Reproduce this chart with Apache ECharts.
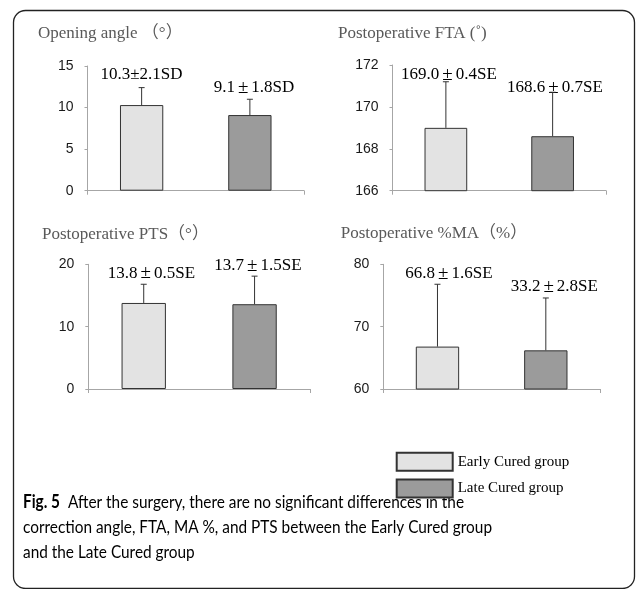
<!DOCTYPE html>
<html>
<head>
<meta charset="utf-8">
<script src="https://cdn.jsdelivr.net/npm/echarts@6/dist/echarts.min.js"></script>
<style>
html,body{margin:0;padding:0;background:#fff;}
#chart{width:637px;height:589px;}
</style>
</head>
<body>
<div id="chart"></div>
<script>
// ---- data ----
const groups = ['Early Cured group', 'Late Cured group'];
const panelTitles = ['Opening angle （°）', 'Postoperative FTA (˚)', 'Postoperative PTS（°）', 'Postoperative %MA（%）'];
const meanValues = [[10.3, 9.1], [169.0, 168.6], [13.8, 13.6], [66.8, 66.2]];
const errorTops = [[12.4, 11.0], [171.2, 170.7], [16.8, 18.1], [76.8, 74.6]];
const valueLabels = [
  ['10.3±2.1SD', '9.1±1.8SD'],
  ['169.0±0.4SE', '168.6±0.7SE'],
  ['13.8±0.5SE', '13.7±1.5SE'],
  ['66.8±1.6SE', '33.2±2.8SE']
];
const axisMin = [0, 166, 0, 60];
const axisMax = [15, 172, 20, 80];
const axisStep = [5, 2, 10, 10];
const captionLead = 'Fig. 5';
const captionLines = [
  'After the surgery, there are no significant differences in the',
  'correction angle, FTA, MA %, and PTS between the Early Cured group',
  'and the Late Cured group'
];

// ---- layout ----
const grids = [
  {left: 87.5, top: 66, width: 216.5, height: 124.7},
  {left: 392.5, top: 65, width: 213.5, height: 125.7},
  {left: 88.3, top: 264.3, width: 221.7, height: 124.7},
  {left: 383.3, top: 264.3, width: 216.7, height: 124.7}
];
const titlePos = [[38, 35], [338, 35], [42, 235.7], [340.7, 235]];
const labelPos = [
  [[141.5, 75], [254, 88]],
  [[449, 75], [555, 88]],
  [[151.5, 273.3], [258, 266]],
  [[449, 274], [554.3, 286.7]]
];
const fills = ['#e3e3e3', '#9b9b9b'];
const serif = '"Liberation Serif", "Noto Sans CJK JP", serif';
const capFont = 'Lato, sans-serif';
const capSize = 18;

// horizontal squeeze so the caption matches the narrow original face
const mc = document.createElement('canvas').getContext('2d');
mc.font = capSize + 'px ' + capFont;
const capScale = Math.min(1, 469 / mc.measureText(captionLines[1]).width);

const chart = echarts.init(document.getElementById('chart'), null, {renderer: 'canvas'});

const xAxes = [], yAxes = [], series = [], graphics = [];
grids.forEach((g, i) => {
  xAxes.push({
    type: 'category', gridIndex: i, data: groups,
    axisLine: {lineStyle: {color: '#a6a6a6', width: 1}},
    axisTick: {show: true, length: 4, lineStyle: {color: '#a6a6a6'}},
    axisLabel: {show: false}
  });
  yAxes.push({
    type: 'value', gridIndex: i, min: axisMin[i], max: axisMax[i], interval: axisStep[i],
    axisLine: {show: true, lineStyle: {color: '#a6a6a6', width: 1}},
    axisTick: {show: true, length: 3, lineStyle: {color: '#a6a6a6'}},
    splitLine: {show: false},
    axisLabel: {margin: 14, fontFamily: '"Liberation Sans", sans-serif', fontSize: 14, color: '#1a1a1a'}
  });
  groups.forEach((name, k) => {
    series.push({
      type: 'bar', name: name, xAxisIndex: i, yAxisIndex: i,
      barWidth: '40%', barGap: '-100%',
      data: groups.map((_, j) => j === k ? meanValues[i][j] : '-'),
      itemStyle: {color: fills[k], borderColor: '#333', borderWidth: 1},
      silent: true
    });
  });
  series.push({
    type: 'custom', xAxisIndex: i, yAxisIndex: i, silent: true, z: 5,
    data: groups.map((_, j) => [j, meanValues[i][j], errorTops[i][j]]),
    encode: {x: 0, y: [1, 2]},
    renderItem: function (params, api) {
      const p0 = api.coord([api.value(0), api.value(1)]);
      const p1 = api.coord([api.value(0), api.value(2)]);
      const st = {stroke: '#333', lineWidth: 1};
      return {type: 'group', children: [
        {type: 'line', shape: {x1: p0[0], y1: p0[1], x2: p1[0], y2: p1[1]}, style: st},
        {type: 'line', shape: {x1: p1[0] - 3, y1: p1[1], x2: p1[0] + 3, y2: p1[1]}, style: st}
      ]};
    }
  });
  graphics.push({
    type: 'text', left: titlePos[i][0], top: titlePos[i][1] - 10,
    style: {text: panelTitles[i], font: '17px ' + serif, fill: '#595959'}
  });
  valueLabels[i].forEach((lab, j) => {
    const parts = lab.split('±');
    const narrow = (i === 0 && j === 0);
    graphics.push({
      type: 'text', x: labelPos[i][j][0], y: labelPos[i][j][1],
      style: {
        text: '{a|' + parts[0] + '}{p|±}{a|' + parts[1] + '}',
        align: 'center', verticalAlign: 'middle',
        rich: {
          a: {fontFamily: serif, fontSize: 17, color: narrow ? '#000' : '#595959'},
          p: {fontFamily: serif, fontSize: narrow ? 17 : 19, color: narrow ? '#000' : '#595959', padding: narrow ? 0 : [0, 3]}
        }
      }
    });
  });
});

// outer frame
graphics.unshift({
  type: 'rect', shape: {x: 13.5, y: 10.5, width: 621, height: 578, r: 12},
  style: {fill: 'none', stroke: '#222', lineWidth: 1.3}, z: -10
});
// caption
captionLines.forEach((line, n) => {
  graphics.push({
    type: 'text', x: 23, y: 502 + n * 25, scaleX: capScale,
    style: {
      text: n === 0 ? '{b|' + captionLead + '}{r|  ' + line + '}' : '{r|' + line + '}',
      verticalAlign: 'middle',
      rich: {
        b: {fontFamily: capFont, fontWeight: 'bold', fontSize: capSize, color: '#231f20'},
        r: {fontFamily: capFont, fontSize: capSize, color: '#231f20'}
      }
    }
  });
});

chart.setOption({
  animation: false,
  grid: grids,
  xAxis: xAxes,
  yAxis: yAxes,
  legend: {
    data: groups, orient: 'vertical', left: 395.7, top: 451.7, padding: 0,
    itemWidth: 56, itemHeight: 18, itemGap: 6.7, icon: 'rect',
    selectedMode: false,
    textStyle: {fontFamily: serif, fontSize: 15, color: '#000'}
  },
  series: series,
  graphic: graphics
});
</script>
</body>
</html>
